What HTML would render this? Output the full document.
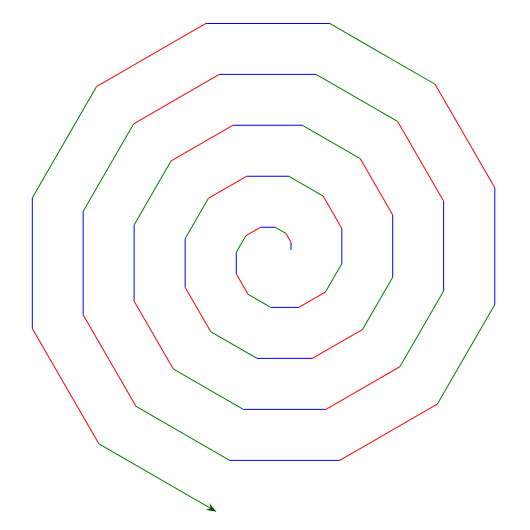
<!DOCTYPE html>
<html><head><meta charset="utf-8"><style>html,body{margin:0;padding:0;background:#fff;width:530px;height:530px;overflow:hidden}</style></head>
<body>
<svg id="chart" width="530" height="530" viewBox="0 0 530 530"></svg>
<script>
const segmentLengths = [7.8,10.1,12.4,14.7,16.9,19.2,21.5,23.7,26.0,28.3,30.6,32.8,35.2,37.4,39.7,42.0,44.3,46.5,48.8,51.1,53.3,55.6,57.9,60.2,62.4,64.8,67.0,69.3,71.5,73.9,76.1,78.4,80.7,82.9,85.2,87.5,89.8,92.0,94.3,96.6,98.9,101.1,103.5,105.7,108.0,110.3,112.6,114.8,117.0,119.4,121.6,123.9,126.2,128.5,130.7,133.1,135.3];
const segmentColors = ["#0000ff","#ff0000","#008000"];
const turnAngle = 30;
const svg = document.getElementById('chart');
const NS = 'http://www.w3.org/2000/svg';
let x = 291, y = 250, heading = 90;
segmentLengths.forEach((len, k) => {
  const r = heading * Math.PI / 180;
  const nx = x + len * Math.cos(r), ny = y - len * Math.sin(r);
  const ln = document.createElementNS(NS, 'line');
  ln.setAttribute('x1', x); ln.setAttribute('y1', y);
  ln.setAttribute('x2', nx); ln.setAttribute('y2', ny);
  ln.setAttribute('stroke', segmentColors[k % 3]);
  ln.setAttribute('stroke-width', '1');
  
  
  svg.appendChild(ln);
  x = nx; y = ny;
  if (k < segmentLengths.length - 1) heading += turnAngle;
});
const r = heading * Math.PI / 180;
const dx = Math.cos(r), dy = -Math.sin(r), px = -dy, py = dx;
const tip = [x, y], b1 = [x - 10*dx + 4*px, y - 10*dy + 4*py], b2 = [x - 10*dx - 4*px, y - 10*dy - 4*py], m = [x - 6*dx, y - 6*dy];
const arrow = document.createElementNS(NS, 'polygon');
arrow.setAttribute('points', [tip, b1, m, b2].map(p => p.join(',')).join(' '));
arrow.setAttribute('fill', '#004d00');


svg.appendChild(arrow);
</script>
</body></html>
